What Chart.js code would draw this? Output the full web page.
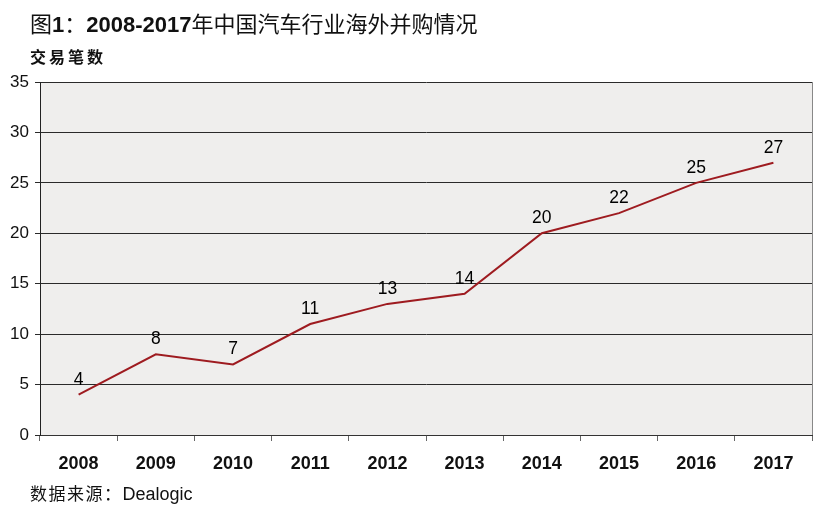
<!DOCTYPE html>
<html><head><meta charset="utf-8">
<script src="https://cdn.jsdelivr.net/npm/chart.js@4/dist/chart.umd.min.js"></script>
<style>
html,body{margin:0;padding:0;background:#fff;}
#wrap{position:relative;width:840px;height:516px;}
canvas{position:absolute;left:0;top:0;}
.t{position:absolute;white-space:nowrap;color:#111;font-family:"Noto Sans CJK SC",sans-serif;}
.num{font-family:"Liberation Sans",Arial,sans-serif;font-weight:bold;}
</style></head>
<body><div id="wrap">
<canvas id="c" width="840" height="516"></canvas>
<div class="t" style="left:30px;top:7px;font-size:22px;line-height:30px;letter-spacing:0;">图<span class="num">1</span>：<span class="num">2008-2017</span>年中国汽车行业海外并购情况</div>
<div class="t" style="left:30px;top:44px;font-size:16px;line-height:24px;letter-spacing:3px;font-weight:bold;">交易笔数</div>
<div class="t" style="left:30px;top:480px;font-size:17px;line-height:26px;letter-spacing:1.5px;">数据来源：<span style="font-family:'Liberation Sans',Arial,sans-serif;font-size:18px;letter-spacing:0">Dealogic</span></div>
</div>
<script>
const categories = ["2008","2009","2010","2011","2012","2013","2014","2015","2016","2017"];
const dealCounts = [4,8,7,11,13,14,20,22,25,27];
const yTicks = [0,5,10,15,20,25,30,35];

const bgPlugin = {
  id:'bg',
  beforeDraw(chart){
    const {ctx, chartArea:a} = chart;
    ctx.save();
    ctx.fillStyle = '#efeeed';
    ctx.fillRect(a.left, a.top, a.right-a.left, a.bottom-a.top);
    ctx.strokeStyle = '#888';
    ctx.lineWidth = 1;
    ctx.beginPath();
    ctx.moveTo(Math.round(a.right)+0.5, a.top);
    ctx.lineTo(Math.round(a.right)+0.5, a.bottom);
    ctx.stroke();
    ctx.restore();
  }
};
const labelPlugin = {
  id:'lbl',
  afterDatasetsDraw(chart){
    const {ctx} = chart;
    const meta = chart.getDatasetMeta(0);
    ctx.save();
    ctx.font = '17.5px "Liberation Sans", Arial, sans-serif';
    ctx.fillStyle = '#000';
    ctx.textAlign = 'center';
    ctx.textBaseline = 'bottom';
    meta.data.forEach((p,i)=>{
      ctx.fillText(String(dealCounts[i]), p.x, p.y - 6);
    });
    ctx.restore();
  }
};

new Chart(document.getElementById('c'), {
  type:'line',
  data:{labels:categories, datasets:[{data:dealCounts, borderColor:'#9e1b20', borderWidth:2, pointRadius:0, tension:0, fill:false}]},
  plugins:[bgPlugin,labelPlugin],
  options:{
    responsive:false, animation:false,
    layout:{padding:{top:82,right:28,left:0,bottom:0}},
    plugins:{legend:{display:false}, tooltip:{enabled:false}},
    scales:{
      x:{
        offset:true,
        grid:{display:true, offset:true, drawOnChartArea:false, drawTicks:true, tickLength:6, color:'#666'},
        border:{display:true, color:'#333'},
        ticks:{color:'#111', padding:12, font:{family:'"Liberation Sans", Arial, sans-serif', size:18, weight:'bold'}},
        afterFit(s){ s.height = 81; }
      },
      y:{
        min:0, max:35,
        afterBuildTicks(s){ s.ticks = yTicks.map(v=>({value:v})); },
        grid:{color:'#2a2a2a', tickLength:5, lineWidth:1},
        border:{display:true, color:'#222'},
        ticks:{color:'#111', padding:6, font:{family:'"Liberation Sans", Arial, sans-serif', size:17}},
        afterFit(s){ s.width = 40; }
      }
    }
  }
});
</script>
</body></html>
